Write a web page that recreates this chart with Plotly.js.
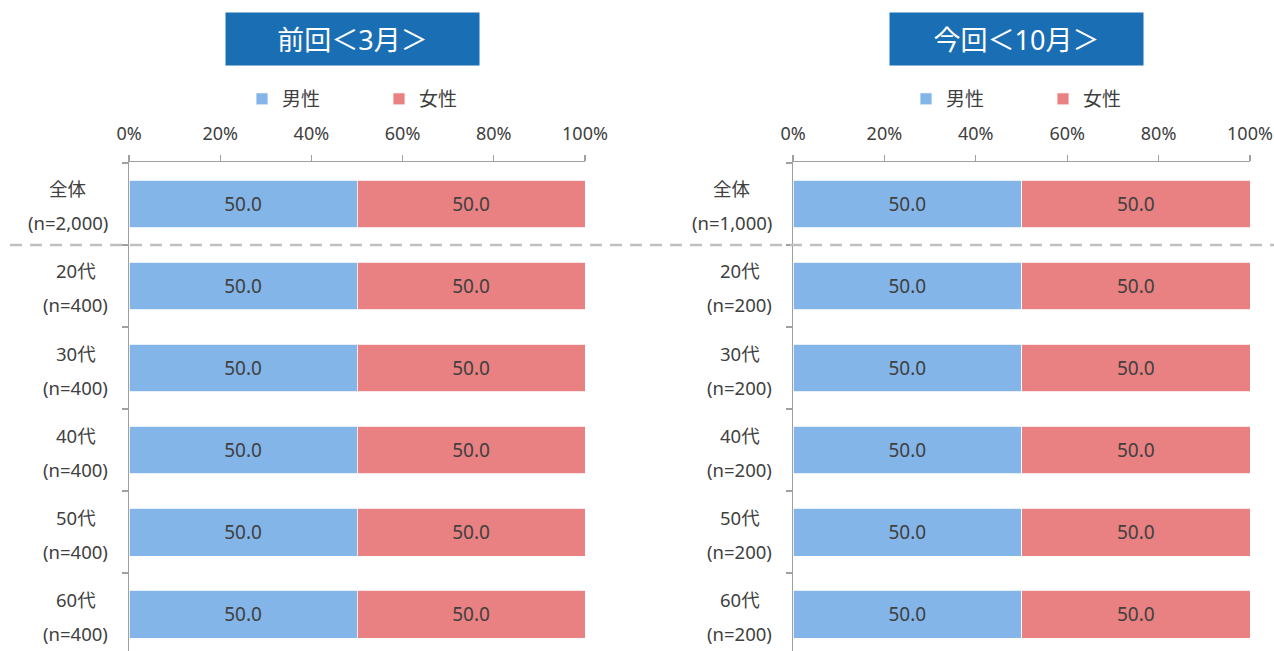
<!DOCTYPE html>
<html>
<head>
<meta charset="utf-8">
<script src="https://cdn.plot.ly/plotly-3.0.1.min.js"></script>
<style>html,body{margin:0;padding:0;background:#fff;}#chart{width:1274px;height:651px;}</style>
</head>
<body>
<div id="chart"></div>
<script>
// ---- data ----
const categories = ['全体', '20代', '30代', '40代', '50代', '60代'];
const sampleLeft = ['(n=2,000)', '(n=400)', '(n=400)', '(n=400)', '(n=400)', '(n=400)'];
const sampleRight = ['(n=1,000)', '(n=200)', '(n=200)', '(n=200)', '(n=200)', '(n=200)'];
const maleLeft = [50.0, 50.0, 50.0, 50.0, 50.0, 50.0];
const femaleLeft = [50.0, 50.0, 50.0, 50.0, 50.0, 50.0];
const maleRight = [50.0, 50.0, 50.0, 50.0, 50.0, 50.0];
const femaleRight = [50.0, 50.0, 50.0, 50.0, 50.0, 50.0];
const seriesNames = ['男性', '女性'];
const panelTitles = ['前回＜3月＞', '今回＜10月＞'];
const xTickVals = [0, 20, 40, 60, 80, 100];
const xTickText = ['0%', '20%', '40%', '60%', '80%', '100%'];

// ---- style ----
const FONT = '"Noto Sans", "Noto Sans CJK JP", sans-serif';
const TXT = '#404040';
const MALE = '#83B5E8';
const FEMALE = '#E98081';
const W = 1274, H = 651;
const labelSize = 18.5;

function bar(name, vals, color, xa, ya, legend, show) {
  return {
    type: 'bar', orientation: 'h', name: name,
    x: vals, y: categories, xaxis: xa, yaxis: ya,
    legend: legend, showlegend: show,
    marker: {color: color, line: {color: '#ffffff', width: 0.8}},
    text: vals.map(v => v.toFixed(1)), textposition: 'inside',
    insidetextanchor: 'middle', textangle: 0,
    textfont: {family: FONT, size: 19, color: TXT},
    hoverinfo: 'skip'
  };
}

const data = [
  bar(seriesNames[0], maleLeft, MALE, 'x', 'y', 'legend', true),
  bar(seriesNames[1], femaleLeft, FEMALE, 'x', 'y', 'legend', true),
  bar(seriesNames[0], maleRight, MALE, 'x2', 'y2', 'legend2', true),
  bar(seriesNames[1], femaleRight, FEMALE, 'x2', 'y2', 'legend2', true)
];

const xBase = {
  range: [0, 100], side: 'top', tickvals: xTickVals, ticktext: xTickText,
  showline: true, linecolor: '#A0A0A0', linewidth: 1.3,
  ticks: 'outside', ticklen: 6, tickcolor: '#A0A0A0', tickwidth: 1.3,
  ticklabelstandoff: 8,
  showgrid: false, zeroline: false, fixedrange: true,
  tickfont: {family: FONT, size: 18, color: TXT}
};
const yBase = {
  type: 'category', range: [5.451, -0.512],
  showline: true, linecolor: '#A0A0A0', linewidth: 1.3,
  ticks: 'outside', tickson: 'boundaries', ticklen: 6, tickcolor: '#A0A0A0', tickwidth: 1.3,
  showticklabels: false, showgrid: false, zeroline: false, fixedrange: true,
  domain: [0, 1 - 162 / H]
};

// measure text for centred two-line category labels
const cv = document.createElement('canvas').getContext('2d');
cv.font = labelSize + 'px ' + FONT;
function w(t) { return cv.measureText(t).width; }

const annotations = [];
function addLabels(xref, yref, samples) {
  categories.forEach((c, i) => {
    const mw = Math.max(w(c), w(samples[i]));
    const xs = -(21 + mw / 2);
    annotations.push({xref: xref + ' domain', yref: yref, x: 0, y: c, xshift: xs, yshift: 15,
      xanchor: 'center', yanchor: 'middle', showarrow: false, text: c,
      font: {family: FONT, size: labelSize, color: TXT}});
    annotations.push({xref: xref + ' domain', yref: yref, x: 0, y: c, xshift: xs, yshift: -19,
      xanchor: 'center', yanchor: 'middle', showarrow: false, text: samples[i],
      font: {family: FONT, size: labelSize, color: TXT}});
  });
}
addLabels('x', 'y', sampleLeft);
addLabels('x2', 'y2', sampleRight);

// panel titles
[[panelTitles[0], 'x'], [panelTitles[1], 'x2']].forEach(([t, xr]) => {
  annotations.push({xref: xr + ' domain', yref: 'paper', x: 0.5, y: 1 - 39 / H, xshift: -5,
    xanchor: 'center', yanchor: 'middle', showarrow: false, text: t,
    width: 253, height: 52, bgcolor: '#1A6EB4', borderpad: 0,
    font: {family: FONT, size: 27, color: '#ffffff'}});
});

const legendBase = {
  orientation: 'h', xanchor: 'left', yanchor: 'middle', y: 1 - 99 / H,
  entrywidth: 92, entrywidthmode: 'pixels', itemwidth: 30,
  font: {family: FONT, size: 19, color: TXT}, bgcolor: 'rgba(0,0,0,0)',
  traceorder: 'normal', itemclick: false, itemdoubleclick: false
};

const layout = {
  width: W, height: H, margin: {l: 0, r: 0, t: 0, b: 0},
  paper_bgcolor: '#ffffff', plot_bgcolor: '#ffffff',
  barmode: 'stack', bargap: 0.415,
  font: {family: FONT, color: TXT},
  xaxis: Object.assign({}, xBase, {domain: [129 / W, 585 / W], anchor: 'y'}),
  yaxis: Object.assign({}, yBase, {anchor: 'x'}),
  xaxis2: Object.assign({}, xBase, {domain: [793 / W, 1250 / W], anchor: 'y2'}),
  yaxis2: Object.assign({}, yBase, {anchor: 'x2'}),
  legend: Object.assign({}, legendBase, {x: 242 / W}),
  legend2: Object.assign({}, legendBase, {x: 906 / W}),
  shapes: [{
    type: 'line', xref: 'paper', yref: 'y', x0: 10 / W, x1: 1, y0: 0.5, y1: 0.5,
    line: {color: '#BFBFBF', width: 2.5, dash: '12px,8px'}
  }],
  annotations: annotations
};

Plotly.newPlot('chart', data, layout, {displayModeBar: false, staticPlot: true});
</script>
</body>
</html>
